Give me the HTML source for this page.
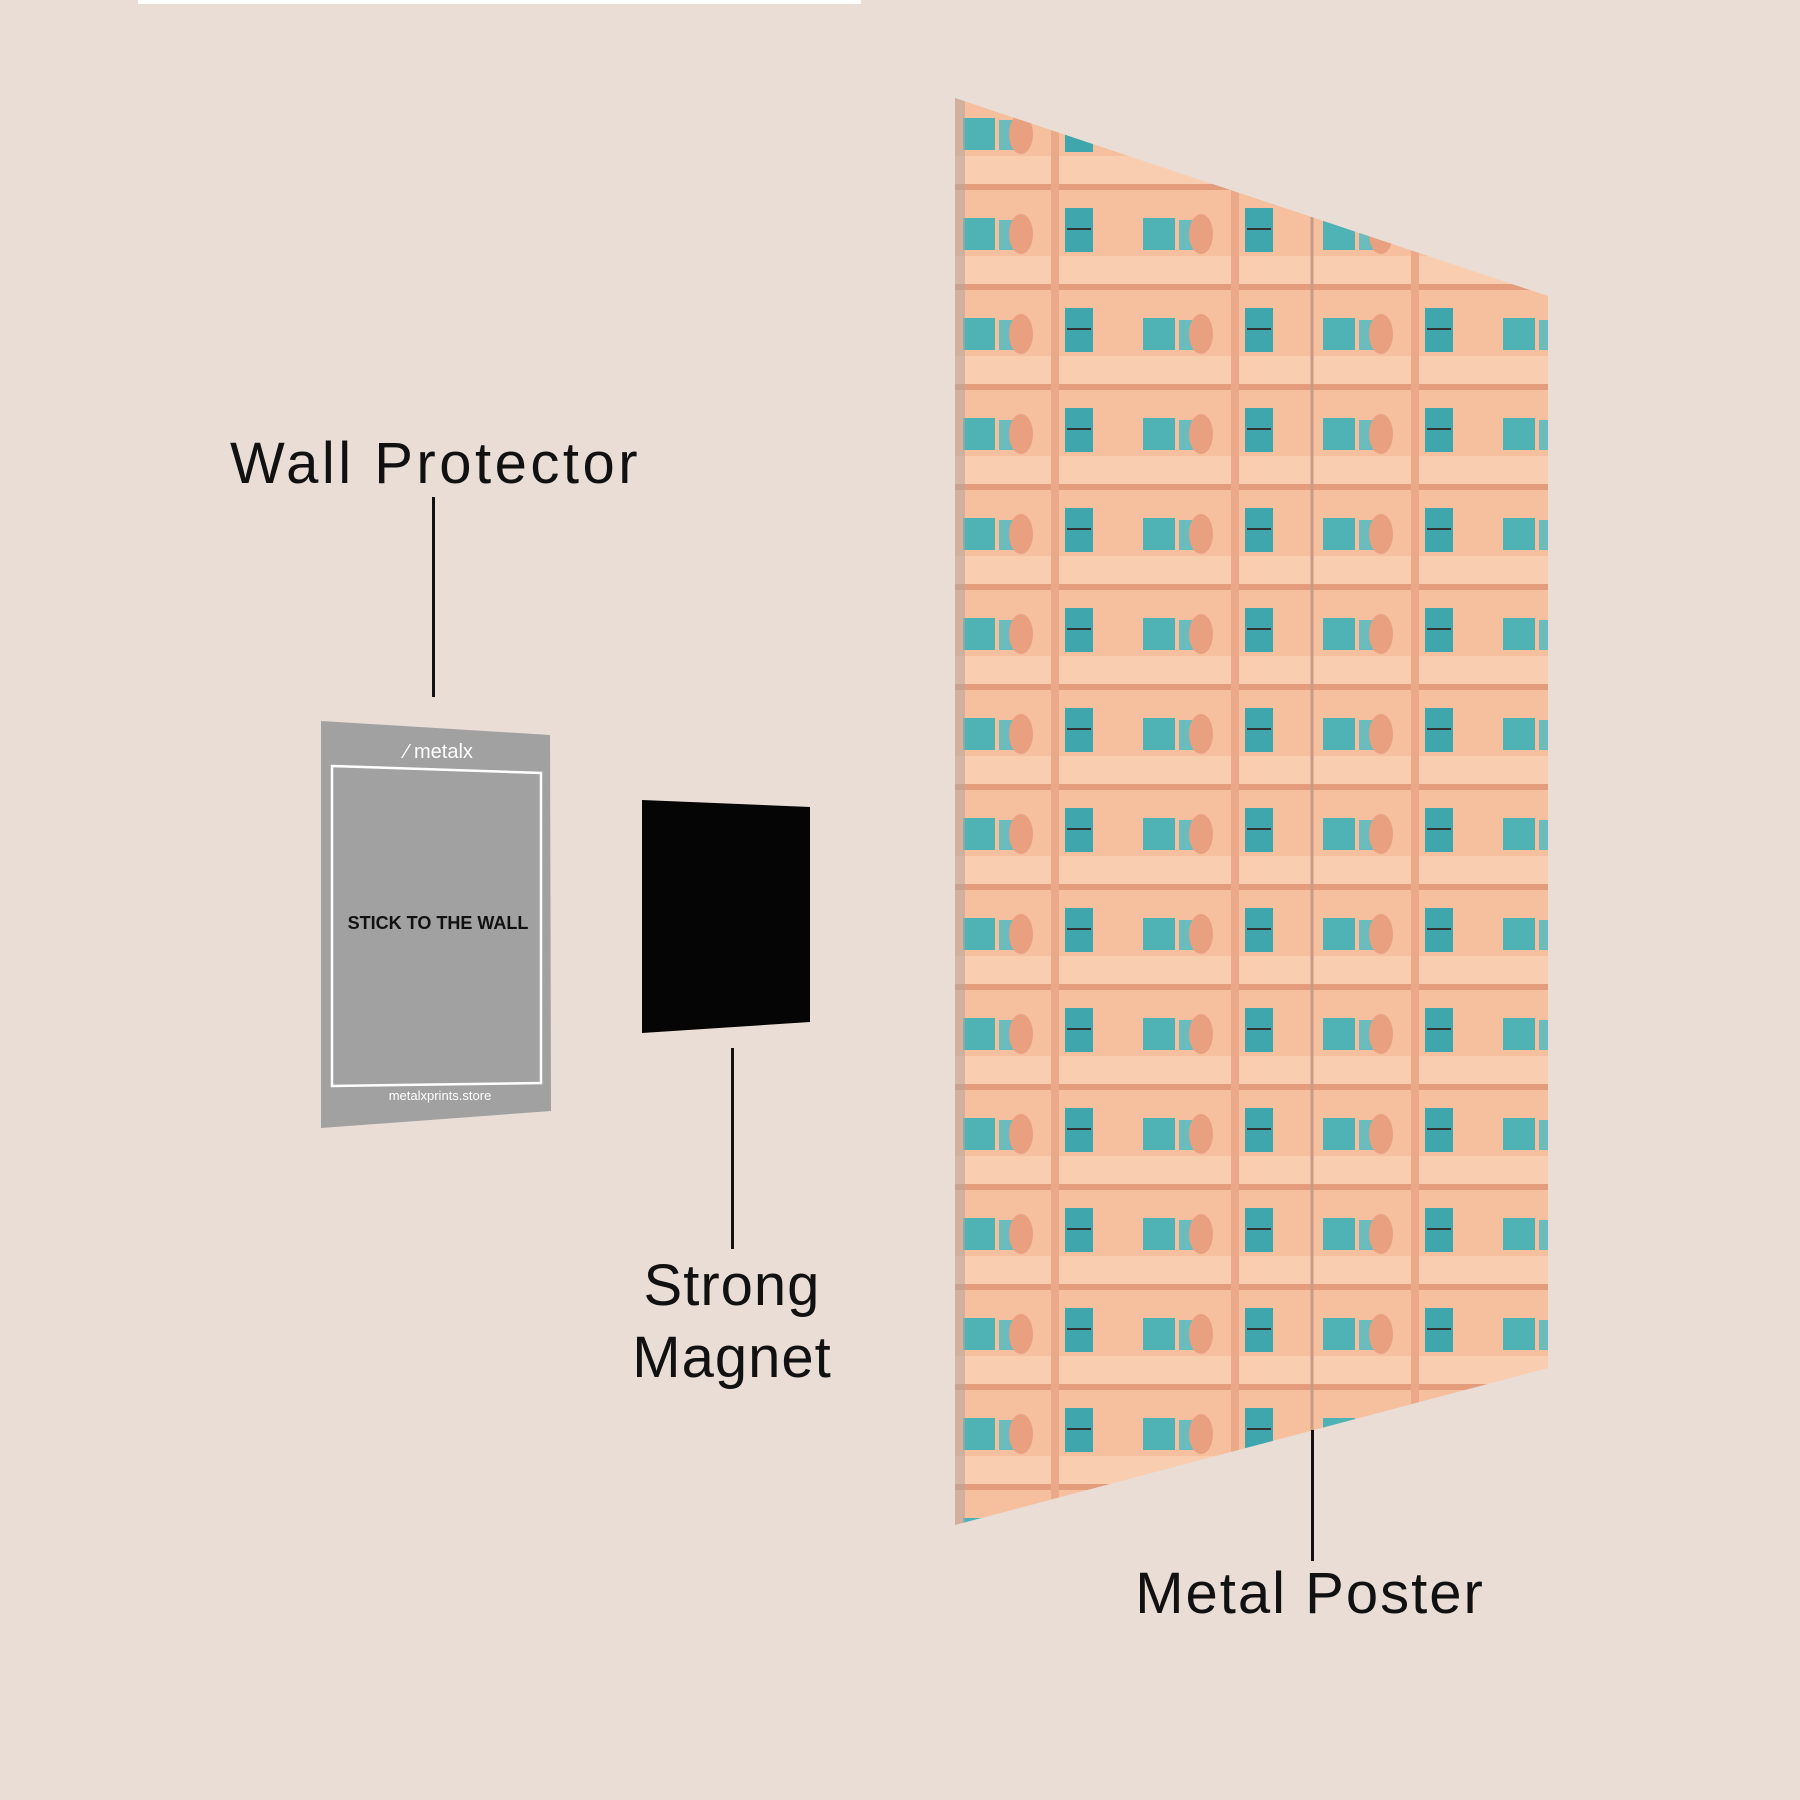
<!DOCTYPE html>
<html><head><meta charset="utf-8"><style>
html,body{margin:0;padding:0;}
body{width:1800px;height:1800px;background:#e9ddd5;position:relative;overflow:hidden;font-family:"Liberation Sans",sans-serif;}
.t{position:absolute;color:#111;font-size:58px;white-space:nowrap;text-align:center;letter-spacing:1px;}
.l{position:absolute;width:3px;background:#111;}
</style></head><body>
<div style="position:absolute;left:138px;top:0;width:723px;height:4px;background:#fff"></div>
<svg width="1800" height="1800" style="position:absolute;left:0;top:0">
<defs>
<clipPath id="pc"><polygon points="955,98 1548,296 1548,1368 955,1525"/></clipPath>
<pattern id="bld" x="955" y="98" width="180" height="100" patternUnits="userSpaceOnUse">
<rect width="180" height="100" fill="#f6bf9d"/>
<rect x="0" y="58" width="180" height="30" fill="#f9cdb0"/>
<rect x="0" y="86" width="180" height="6" fill="#e39d7d"/>
<rect x="8" y="20" width="32" height="32" fill="#4fb3b5"/>
<rect x="44" y="22" width="20" height="30" fill="#6cbcbd"/>
<ellipse cx="66" cy="36" rx="12" ry="20" fill="#e8a080"/>
<rect x="110" y="10" width="28" height="44" fill="#3fa6ad"/>
<rect x="112" y="30" width="24" height="2" fill="#333"/>
<rect x="96" y="0" width="8" height="100" fill="#eaa989"/>
</pattern>
</defs>
<polygon points="955,98 1548,296 1548,1368 955,1525" fill="url(#bld)"/>
<g clip-path="url(#pc)">
<line x1="1312" y1="100" x2="1312" y2="1500" stroke="#c99a85" stroke-width="3"/>
<rect x="955" y="98" width="10" height="1430" fill="#b9a79c" opacity="0.6"/>
</g>
<polygon points="321,721 550,735 551,1111 321,1128" fill="#a1a1a1"/>
<polygon points="332,766 541,773 541,1083 332,1086" fill="none" stroke="#fff" stroke-width="2.5"/>
<text x="439" y="758" font-size="20" fill="#fff" text-anchor="middle" font-family="Liberation Sans">⁄ metalx</text>
<text x="438" y="929" font-size="18" font-weight="bold" fill="#111" text-anchor="middle" font-family="Liberation Sans">STICK TO THE WALL</text>
<text x="440" y="1100" font-size="13" fill="#fff" text-anchor="middle" font-family="Liberation Sans">metalxprints.store</text>
<polygon points="642,800 810,807 810,1022 642,1033" fill="#050505"/>
</svg>
<div class="t" style="left:230px;top:430px;letter-spacing:3.5px;">Wall Protector</div>
<div class="l" style="left:432px;top:497px;height:200px"></div>
<div class="l" style="left:731px;top:1048px;height:201px"></div>
<div class="t" style="left:582px;top:1250px;width:300px;line-height:72px;">Strong<br>Magnet</div>
<div class="l" style="left:1311px;top:1430px;height:131px"></div>
<div class="t" style="left:1110px;top:1560px;width:400px;letter-spacing:2px;">Metal Poster</div>
</body></html>
